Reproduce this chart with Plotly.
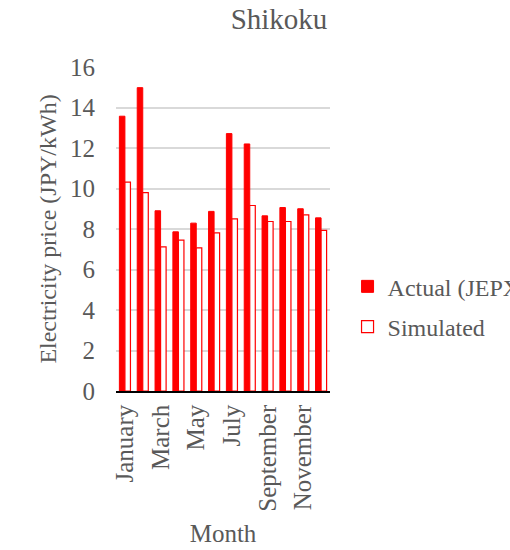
import plotly.graph_objects as go

months = ["January", "February", "March", "April", "May", "June",
          "July", "August", "September", "October", "November", "December"]
actual_jepx = [13.57, 14.98, 8.90, 7.86, 8.29, 8.87, 12.71, 12.20, 8.65, 9.06, 9.00, 8.55]
simulated = [10.31, 9.80, 7.12, 7.45, 7.07, 7.81, 8.50, 9.16, 8.37, 8.37, 8.70, 7.93]
shown_months = months[::2]
y_ticks = [0, 2, 4, 6, 8, 10, 12, 14, 16]

FONT = "Liberation Serif"
GREY = "#595959"
RED = "#FF0000"

fig = go.Figure()
fig.add_trace(go.Bar(
    x=months, y=actual_jepx, name="Actual (JEPX)",
    marker=dict(color=RED, line=dict(color=RED, width=1)),
    legendgroup="a",
))
fig.add_trace(go.Bar(
    x=months, y=simulated, name="Simulated",
    marker=dict(color="white", line=dict(color=RED, width=1.2)),
    legendgroup="s",
))

fig.update_layout(
    width=510, height=550,
    margin=dict(l=116, r=180, t=67, b=159, autoexpand=False),
    paper_bgcolor="white", plot_bgcolor="white",
    font=dict(family=FONT, size=24, color=GREY),
    title=dict(text="Shikoku", x=279 / 510, xanchor="center",
               y=1 - 19 / 550, yanchor="middle",
               font=dict(family=FONT, size=29, color=GREY)),
    barmode="group", bargap=0.38, bargroupgap=0,
    showlegend=True,
    legend=dict(x=1.082, xanchor="left", y=0.26, yanchor="middle",
                font=dict(family=FONT, size=24, color=GREY),
                tracegroupgap=6, bgcolor="rgba(0,0,0,0)",
                itemwidth=30),
    xaxis=dict(
        title=dict(text="Month", standoff=14,
                   font=dict(family=FONT, size=25, color=GREY)),
        tickmode="array", tickvals=shown_months, ticktext=shown_months,
        tickangle=-90, showgrid=False,
        showline=True, linecolor="black", linewidth=1.5,
        ticks="", ticklabelstandoff=2,
        tickfont=dict(family=FONT, size=25, color=GREY),
    ),
    yaxis=dict(
        title=dict(text="Electricity price (JPY/kWh)", standoff=6,
                   font=dict(family=FONT, size=24, color=GREY)),
        range=[0, 16], tickvals=y_ticks,
        showgrid=True, gridcolor="#D9D9D9", gridwidth=1.5,
        zeroline=False, showline=False, ticks="",
        ticklabelstandoff=20,
        tickfont=dict(family=FONT, size=25, color=GREY),
    ),
)

fig.write_html("out.html")
